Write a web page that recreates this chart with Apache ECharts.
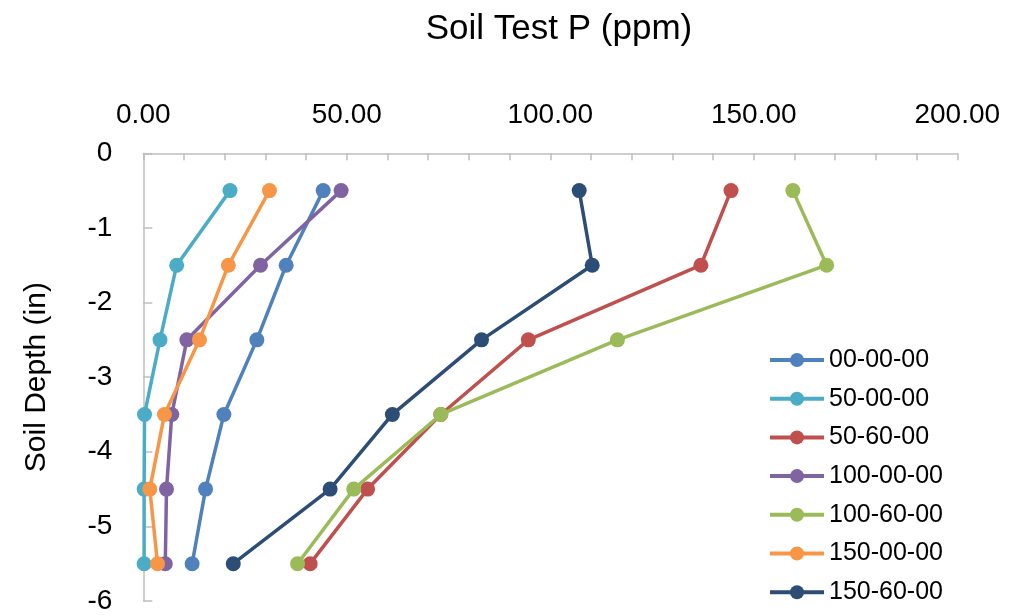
<!DOCTYPE html>
<html>
<head>
<meta charset="utf-8">
<script src="https://cdn.jsdelivr.net/npm/echarts@6/dist/echarts.min.js"></script>
<style>
html,body{margin:0;padding:0;background:#fff;}
#chart{width:1012px;height:615px;}
</style>
</head>
<body>
<div id="chart"></div>
<script>
var depths = [-0.5, -1.5, -2.5, -3.5, -4.5, -5.5];
var seriesNames = ['00-00-00', '50-00-00', '50-60-00', '100-00-00', '100-60-00', '150-00-00', '150-60-00'];
var s_00_00_00  = [44.2, 35.1, 27.9, 19.8, 15.3, 12.0];
var s_50_00_00  = [21.3, 8.2, 4.1, 0.3, 0.2, 0.2];
var s_50_60_00  = [144.4, 137.0, 94.6, 73.1, 55.1, 41.0];
var s_100_00_00 = [48.6, 28.8, 10.7, 7.0, 5.7, 5.4];
var s_100_60_00 = [159.6, 167.9, 116.5, 73.1, 51.7, 37.9];
var s_150_00_00 = [31.0, 20.9, 13.8, 5.2, 1.6, 3.5];
var s_150_60_00 = [107.1, 110.3, 83.1, 61.2, 45.9, 22.1];
var seriesValues = [s_00_00_00, s_50_00_00, s_50_60_00, s_100_00_00, s_100_60_00, s_150_00_00, s_150_60_00];
var colors = ['#4F81BD', '#4BACC6', '#C0504D', '#8064A2', '#9BBB59', '#F79646', '#2C4D75'];

var FONT = 'Liberation Sans';
var series = seriesNames.map(function (name, i) {
  return {
    name: name,
    type: 'line',
    data: seriesValues[i].map(function (v, j) { return [v, depths[j]]; }),
    symbol: 'circle',
    symbolSize: 15,
    lineStyle: { width: 3.5, color: colors[i] },
    itemStyle: { color: colors[i] },
    z: 2 + i
  };
});

var chart = echarts.init(document.getElementById('chart'));
chart.setOption({
  animation: false,
  color: colors,
  textStyle: { fontFamily: FONT },
  title: {
    text: 'Soil Test P (ppm)',
    left: 554, top: 7, textAlign: 'center',
    textStyle: { fontFamily: FONT, fontSize: 35, fontWeight: 'normal', color: '#000' }
  },
  legend: {
    orient: 'vertical',
    left: 763, top: 341,
    itemWidth: 54, itemHeight: 17.5, itemGap: 10.7,
    lineStyle: { width: 4 },
    textStyle: { fontFamily: FONT, fontSize: 25, color: '#000', lineHeight: 28 },
    data: seriesNames
  },
  grid: { left: 143.3, right: 54.7, top: 153.3, bottom: 13.3, containLabel: false },
  xAxis: {
    type: 'value', position: 'top',
    min: 0, max: 200, interval: 10,
    axisLine: { show: true, lineStyle: { color: '#BFBFBF', width: 1.5 } },
    axisTick: { show: true, inside: true, length: 7, lineStyle: { color: '#BFBFBF', width: 1.5 } },
    splitLine: { show: false },
    axisLabel: {
      margin: 24, fontFamily: FONT, fontSize: 28, color: '#000',
      formatter: function (v) { return v % 50 === 0 ? v.toFixed(2) : ''; }
    }
  },
  yAxis: {
    type: 'value',
    min: -6, max: 0, interval: 1,
    name: 'Soil Depth (in)', nameLocation: 'middle', nameGap: 92,
    nameTextStyle: { fontFamily: FONT, fontSize: 30, color: '#000' },
    axisLine: { show: true, lineStyle: { color: '#BFBFBF', width: 1.5 } },
    axisTick: { show: true, inside: true, length: 9, lineStyle: { color: '#BFBFBF', width: 1.5 } },
    splitLine: { show: false },
    axisLabel: { margin: 31, fontFamily: FONT, fontSize: 28, color: '#000' }
  },
  series: series
});
</script>
</body>
</html>
